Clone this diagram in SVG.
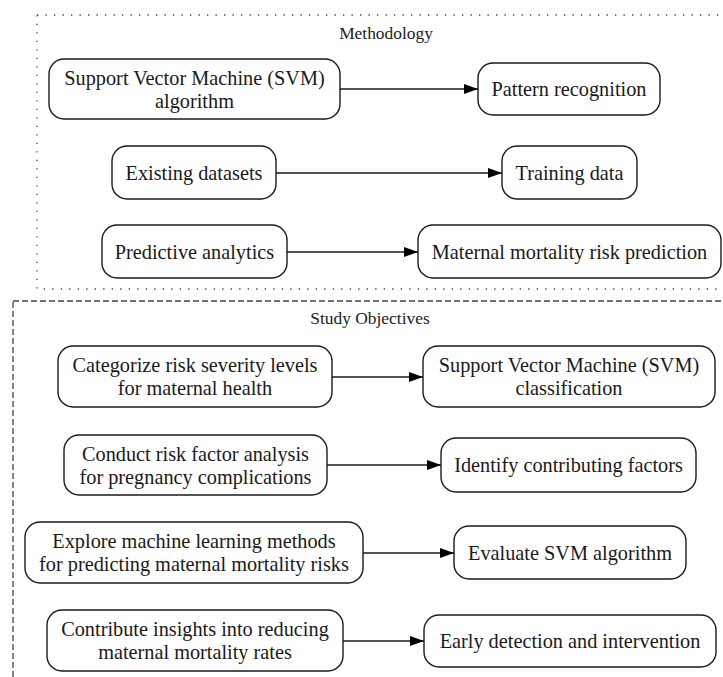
<svg xmlns="http://www.w3.org/2000/svg" width="723" height="677" viewBox="0 0 723 677">
<style>
.bg{fill:#ffffff}
.cl-dot{fill:none;stroke:#444;stroke-width:1.3;stroke-dasharray:1.3 7.2}
.cl-dash{fill:none;stroke:#444;stroke-width:1.3;stroke-dasharray:6 3}
.cl-label{font-family:"Liberation Serif","Times New Roman",serif;font-size:17.4px;fill:#222;text-anchor:middle}
.node rect{fill:#fff;stroke:#1a1a1a;stroke-width:1.4}
.node text{font-family:"Liberation Serif","Times New Roman",serif;font-size:20.3px;fill:#1a1a1a;text-anchor:middle}
.edge{stroke:#1a1a1a;stroke-width:1.4;fill:none}
</style>
<defs>
<marker id="ah" viewBox="0 0 14 10" refX="14" refY="5" markerWidth="14" markerHeight="10" markerUnits="userSpaceOnUse" orient="auto">
<path d="M0,0 L14,5 L0,10 Z" fill="#000"/>
</marker>
</defs>
<rect class="bg" x="0" y="0" width="723" height="677"/>

<g id="cluster-methodology">
<rect class="cl-dot" x="37" y="15" width="700" height="274"/>
<text class="cl-label" x="386" y="39">Methodology</text>
</g>
<g id="cluster-objectives">
<rect class="cl-dash" x="13" y="301" width="716" height="390"/>
<text class="cl-label" x="370" y="324">Study Objectives</text>
</g>

<g id="connectors">
<path class="edge" d="M340,89 L478,89" marker-end="url(#ah)"/>
<path class="edge" d="M276,173 L502,173" marker-end="url(#ah)"/>
<path class="edge" d="M287,252 L418,252" marker-end="url(#ah)"/>
<path class="edge" d="M332,377 L423,377" marker-end="url(#ah)"/>
<path class="edge" d="M327,465 L441,465" marker-end="url(#ah)"/>
<path class="edge" d="M363,553 L454,553" marker-end="url(#ah)"/>
<path class="edge" d="M343,641 L424,641" marker-end="url(#ah)"/>
</g>

<g id="n-svm-algorithm" class="node">
<rect x="49" y="59" width="291" height="60" rx="15"/>
<text x="194.5" y="84.5">Support Vector Machine (SVM)</text>
<text x="194.5" y="107.5">algorithm</text>
</g>
<g id="n-pattern" class="node">
<rect x="478" y="63" width="182" height="52" rx="15"/>
<text x="569" y="96">Pattern recognition</text>
</g>
<g id="n-existing" class="node">
<rect x="112" y="146" width="164" height="53" rx="15"/>
<text x="194" y="179.5">Existing datasets</text>
</g>
<g id="n-training" class="node">
<rect x="502" y="146" width="135" height="53" rx="15"/>
<text x="569.5" y="179.5">Training data</text>
</g>
<g id="n-predictive" class="node">
<rect x="102" y="225" width="185" height="53" rx="15"/>
<text x="194.5" y="258.5">Predictive analytics</text>
</g>
<g id="n-maternal" class="node">
<rect x="418" y="225" width="303" height="53" rx="15"/>
<text x="569.5" y="258.5">Maternal mortality risk prediction</text>
</g>

<g id="n-categorize" class="node">
<rect x="58" y="346" width="274" height="61" rx="15"/>
<text x="195" y="372">Categorize risk severity levels</text>
<text x="195" y="395">for maternal health</text>
</g>
<g id="n-svm-class" class="node">
<rect x="423" y="346" width="292" height="61" rx="15"/>
<text x="569" y="372">Support Vector Machine (SVM)</text>
<text x="569" y="395">classification</text>
</g>
<g id="n-conduct" class="node">
<rect x="64" y="435" width="263" height="60" rx="15"/>
<text x="195.5" y="460.5">Conduct risk factor analysis</text>
<text x="195.5" y="483.5">for pregnancy complications</text>
</g>
<g id="n-identify" class="node">
<rect x="441" y="438" width="255" height="54" rx="15"/>
<text x="568.5" y="472">Identify contributing factors</text>
</g>
<g id="n-explore" class="node">
<rect x="25" y="522" width="338" height="61" rx="15"/>
<text x="194" y="548">Explore machine learning methods</text>
<text x="194" y="571">for predicting maternal mortality risks</text>
</g>
<g id="n-evaluate" class="node">
<rect x="454" y="526" width="232" height="53" rx="15"/>
<text x="570" y="559.5">Evaluate SVM algorithm</text>
</g>
<g id="n-contribute" class="node">
<rect x="47" y="610" width="296" height="61" rx="15"/>
<text x="195" y="636">Contribute insights into reducing</text>
<text x="195" y="659">maternal mortality rates</text>
</g>
<g id="n-early" class="node">
<rect x="424" y="615" width="292" height="52" rx="15"/>
<text x="570" y="648">Early detection and intervention</text>
</g>
</svg>
